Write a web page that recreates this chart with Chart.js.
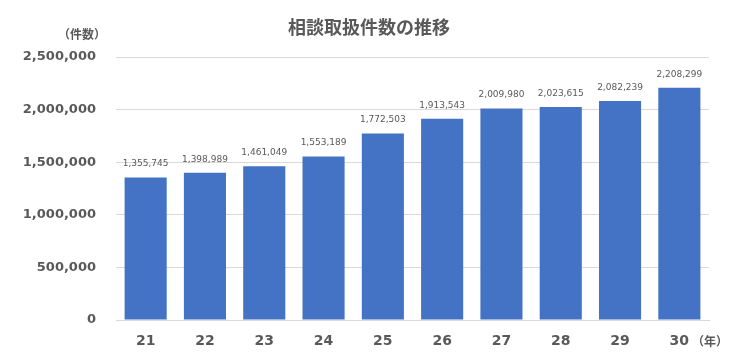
<!DOCTYPE html>
<html><head><meta charset="utf-8">
<script src="https://cdn.jsdelivr.net/npm/chart.js@4"></script>
<style>html,body{margin:0;padding:0;background:#fff}#wrap{width:740px;height:353px}</style>
</head><body><div id="wrap"><canvas id="c" width="740" height="353"></canvas></div>
<script>
const categories = ['21','22','23','24','25','26','27','28','29','30'];
const cases = [1355745,1398989,1461049,1553189,1772503,1913543,2009980,2023615,2082239,2208299];
const yTicks = [0,500000,1000000,1500000,2000000,2500000];
const titleText = '相談取扱件数の推移';
const yUnit = '（件数）';
const xUnit = '（年）';

const FONT = '"DejaVu Sans", "Noto Sans CJK JP", sans-serif';
const CJK = '"Noto Sans CJK JP", sans-serif';
const fmt = v => v.toLocaleString('en-US');

const extras = {
  id: 'extras',
  afterDatasetsDraw(chart) {
    const ctx = chart.ctx;
    const meta = chart.getDatasetMeta(0);
    ctx.save();
    ctx.fillStyle = '#595959';
    ctx.font = '9px ' + FONT;
    ctx.textAlign = 'center';
    ctx.textBaseline = 'bottom';
    meta.data.forEach((bar, i) => {
      ctx.fillText(fmt(cases[i]), bar.x, bar.y - 9);
    });
    ctx.restore();
  },
  afterDraw(chart) {
    const ctx = chart.ctx;
    ctx.save();
    ctx.fillStyle = '#595959';
    ctx.textBaseline = 'middle';
    ctx.textAlign = 'center';
    ctx.font = 'bold 18px ' + CJK;
    ctx.fillText(titleText, 369, 27);
    ctx.font = 'bold 12px ' + CJK;
    ctx.textAlign = 'left';
    ctx.fillText(yUnit, 58, 34);
    ctx.fillText(xUnit, 692, 341);
    ctx.restore();
  }
};

new Chart(document.getElementById('c'), {
  type: 'bar',
  data: {
    labels: categories,
    datasets: [{ data: cases, backgroundColor: '#4472C4', borderWidth: 0,
      categoryPercentage: 1, barPercentage: 0.71 }]
  },
  options: {
    responsive: false,
    animation: false,
    layout: { padding: { left: 0, right: 31, top: 57, bottom: 0 } },
    plugins: { legend: { display: false }, tooltip: { enabled: false } },
    scales: {
      x: {
        grid: { display: false, drawTicks: false },
        border: { display: true, color: '#d9d9d9', width: 1 },
        ticks: { color: '#595959', font: { family: FONT, size: 14, weight: 'bold' }, padding: 13, maxRotation: 0 },
        afterFit: s => { s.height = 33; }
      },
      y: {
        min: 0, max: 2500000,
        afterBuildTicks: s => { s.ticks = yTicks.map(v => ({ value: v })); },
        grid: { color: '#d9d9d9', drawTicks: false },
        border: { display: false },
        ticks: { color: '#595959', font: { family: FONT, size: 13, weight: 'bold' }, padding: 20, callback: v => fmt(v) },
        afterFit: s => { s.width = 116; }
      }
    }
  },
  plugins: [extras]
});
</script></body></html>
